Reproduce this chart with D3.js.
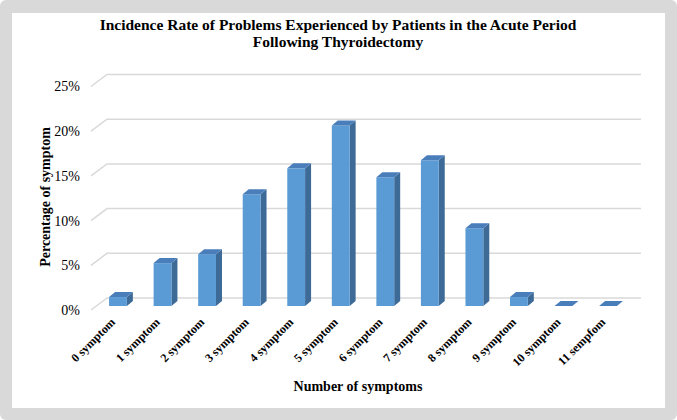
<!DOCTYPE html>
<html>
<head>
<meta charset="utf-8">
<script src="https://cdn.jsdelivr.net/npm/d3@7"></script>
</head>
<body style="margin:0">
<div id="chart"></div>
<script>
var categories = ["0 symptom", "1 symptom", "2 symptom", "3 symptom", "4 symptom", "5 symptom",
                  "6 symptom", "7 symptom", "8 symptom", "9 symptom", "10 symptom", "11 sempfom"];
var percentages = [1.0, 4.8, 5.8, 12.5, 15.4, 20.2, 14.4, 16.3, 8.7, 1.0, 0, 0];
var yTicks = [0, 5, 10, 15, 20, 25];

var width = 677, height = 420;
var depthX = 6, depthY = 5;        // bar depth
var floorX = 16, floorY = 12;      // side wall depth
var frontShift = 8;                // bar front below back wall

var svg = d3.select("#chart").append("svg")
    .attr("width", width)
    .attr("height", height)
    .style("display", "block")
    .style("font-family", "'Liberation Serif', 'Times New Roman', serif");

// frame
svg.append("rect")
    .attr("width", width).attr("height", height)
    .attr("rx", 6)
    .attr("fill", "#d9d9d9");
svg.append("rect")
    .attr("x", 12).attr("y", 13)
    .attr("width", 653).attr("height", 395)
    .attr("fill", "#fff");

var x = d3.scaleBand()
    .domain(categories)
    .range([95.7, 630.3])
    .paddingInner(0.6)
    .paddingOuter(0.3);

// back wall scale
var y = d3.scaleLinear()
    .domain([0, 25])
    .range([298, 74.5]);

// gridlines
var grid = svg.append("g").attr("class", "grid");
grid.selectAll("path")
    .data(yTicks)
    .enter().append("path")
    .attr("d", function(d) {
        var yy = y(d);
        return "M" + (107 - floorX) + "," + (yy + floorY) + "L107," + yy + "L641," + yy;
    })
    .attr("fill", "none")
    .attr("stroke", "#d9d9d9")
    .attr("stroke-width", 1.5);

grid.selectAll("text")
    .data(yTicks)
    .enter().append("text")
    .attr("x", 80)
    .attr("y", function(d) { return y(d) + floorY; })
    .attr("dy", "0.35em")
    .attr("text-anchor", "end")
    .attr("font-size", "14px")
    .text(function(d) { return d + "%"; });

// bars
var bar = svg.append("g").attr("class", "bars")
    .selectAll("g")
    .data(percentages)
    .enter().append("g")
    .attr("transform", function(d, i) { return "translate(" + x(categories[i]) + ",0)"; });

var bw = x.bandwidth();

bar.append("path")
    .attr("d", function(d) {
        var top = y(d) + frontShift, base = y(0) + frontShift;
        return "M" + bw + "," + base + "L" + (bw + depthX) + "," + (base - depthY) +
               "L" + (bw + depthX) + "," + (top - depthY) + "L" + bw + "," + top + "Z";
    })
    .attr("fill", "#3d6a96");

bar.append("rect")
    .attr("x", 0)
    .attr("y", function(d) { return y(d) + frontShift; })
    .attr("width", bw)
    .attr("height", function(d) { return y(0) - y(d); })
    .attr("fill", "#5b9bd5");

bar.append("path")
    .attr("d", function(d) {
        var top = y(d) + frontShift;
        return "M0," + top + "L" + depthX + "," + (top - depthY) +
               "L" + (bw + depthX) + "," + (top - depthY) + "L" + bw + "," + top + "Z";
    })
    .attr("fill", "#4a7ebb");

// category labels
svg.append("g").attr("class", "x-labels")
    .selectAll("text")
    .data(categories)
    .enter().append("text")
    .attr("transform", function(d) {
        return "translate(" + (x(d) + bw / 2 - 5) + ",320) rotate(-45)";
    })
    .attr("text-anchor", "end")
    .attr("dy", "0.35em")
    .attr("font-size", "12px")
    .attr("font-weight", "bold")
    .text(function(d) { return d; });

// titles
var title = svg.append("text")
    .attr("x", 338)
    .attr("y", 30)
    .attr("text-anchor", "middle")
    .attr("font-size", "15.5px")
    .attr("font-weight", "bold");
title.append("tspan").attr("x", 338).text("Incidence Rate of Problems Experienced by Patients in the Acute Period");
title.append("tspan").attr("x", 338).attr("dy", 17).text("Following Thyroidectomy");

svg.append("text")
    .attr("x", 358)
    .attr("y", 391)
    .attr("text-anchor", "middle")
    .attr("font-size", "14px")
    .attr("font-weight", "bold")
    .text("Number of symptoms");

svg.append("text")
    .attr("transform", "translate(50,197) rotate(-90)")
    .attr("text-anchor", "middle")
    .attr("font-size", "14px")
    .attr("font-weight", "bold")
    .text("Percentage of symptom");
</script>
</body>
</html>
